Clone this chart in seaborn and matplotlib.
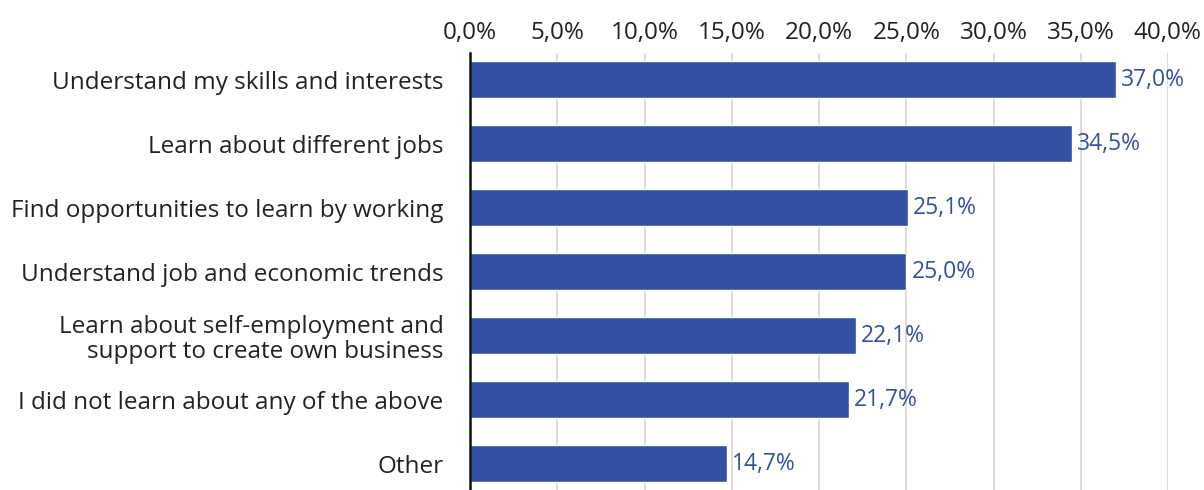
import matplotlib
matplotlib.use("Agg")
import matplotlib.pyplot as plt
import seaborn as sns
import pandas as pd

categories = [
    "Understand my skills and interests",
    "Learn about different jobs",
    "Find opportunities to learn by working",
    "Understand job and economic trends",
    "Learn about self-employment and\nsupport to create own business",
    "I did not learn about any of the above",
    "Other",
]
values = [37.0, 34.5, 25.1, 25.0, 22.1, 21.7, 14.7]
ticks = [0, 5, 10, 15, 20, 25, 30, 35, 40]

bar_color = "#3350A3"
text_color = "#222222"
grid_color = "#DDD8D0"

sns.set_theme(style="white")
plt.rcParams["font.family"] = ["Open Sans", "DejaVu Sans"]

df = pd.DataFrame({"category": categories, "value": values})

fig = plt.figure(figsize=(12.04, 4.90), dpi=100)
ax = fig.add_axes([470 / 1204, 0.0, (1168 - 470) / 1204, 1 - 53 / 490])

sns.barplot(data=df, x="value", y="category", orient="h", color=bar_color,
            saturation=1, width=0.58, ax=ax, zorder=3)

ax.set_xlim(0, 40)
ax.set_ylim(6.41, -0.42)
ax.set_xticks(ticks)
ax.set_xticklabels([f"{t:.1f}%".replace(".", ",") for t in ticks],
                   fontsize=17.5, color=text_color)
ax.xaxis.tick_top()
ax.tick_params(axis="x", length=0, pad=6)
ax.tick_params(axis="y", length=0, pad=19, labelsize=17.5, labelcolor=text_color)
for lbl in ax.get_yticklabels():
    lbl.set_horizontalalignment("right")
    lbl.set_multialignment("right")
    lbl.set_linespacing(1.08)

ax.set_xlabel("")
ax.set_ylabel("")
for t in ticks[1:]:
    ax.axvline(t, color=grid_color, lw=1.3, zorder=1)

for side in ["top", "right", "bottom"]:
    ax.spines[side].set_visible(False)
ax.spines["left"].set_color("#111111")
ax.spines["left"].set_linewidth(1.8)
ax.spines["left"].set_zorder(5)

for i, v in enumerate(values):
    ax.text(v + 0.3, i, f"{v:.1f}%".replace(".", ","), va="center", ha="left",
            fontsize=16.5, color=bar_color, zorder=4)

fig.savefig("out.png", dpi=100)
